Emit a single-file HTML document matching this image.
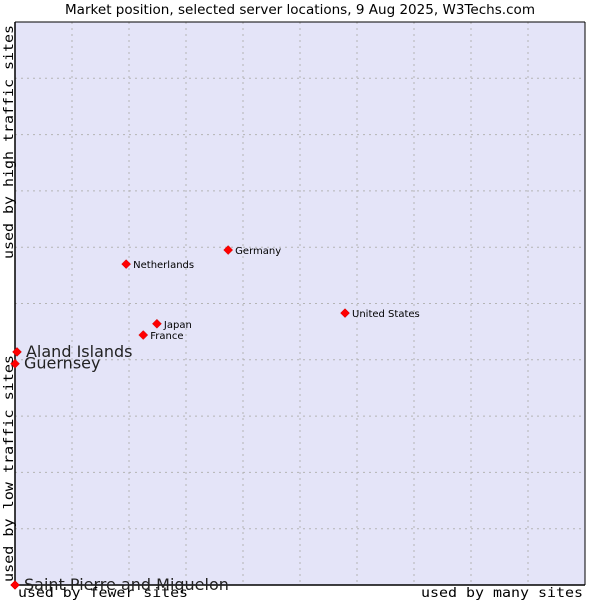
<!DOCTYPE html>
<html><head><meta charset="utf-8"><style>
body{margin:0;background:#fff;}
svg{display:block;}
</style></head><body>
<svg id="chart" width="600" height="600" xmlns="http://www.w3.org/2000/svg" font-family="'DejaVu Sans', 'Liberation Sans', sans-serif">
<text x="65" y="14" font-size="13" textLength="470" lengthAdjust="spacingAndGlyphs" fill="#000">Market position, selected server locations, 9 Aug 2025, W3Techs.com</text>
<rect x="15" y="22" width="570" height="563" fill="#e4e4f8"/>
<g id="grid"></g>
<line x1="15" y1="22" x2="15" y2="585" stroke="#000" stroke-width="1.5"/>
<line x1="15" y1="585" x2="585" y2="585" stroke="#000" stroke-width="1.5"/>
<line x1="15" y1="22" x2="585" y2="22" stroke="#000" stroke-width="1"/>
<line x1="585" y1="22" x2="585" y2="585" stroke="#000" stroke-width="1"/>
<g id="points"></g>
<text x="18" y="597" textLength="170" lengthAdjust="spacingAndGlyphs" font-family="'DejaVu Sans Mono','Liberation Mono',monospace" font-size="13" fill="#000">used by fewer sites</text>
<text x="421" y="597" textLength="162" lengthAdjust="spacingAndGlyphs" font-family="'DejaVu Sans Mono','Liberation Mono',monospace" font-size="13" fill="#000">used by many sites</text>
<text transform="translate(13,582) rotate(-90)" textLength="227" lengthAdjust="spacingAndGlyphs" font-family="'DejaVu Sans Mono','Liberation Mono',monospace" font-size="13" fill="#000">used by low traffic sites</text>
<text transform="translate(13,259) rotate(-90)" textLength="234" lengthAdjust="spacingAndGlyphs" font-family="'DejaVu Sans Mono','Liberation Mono',monospace" font-size="13" fill="#000">used by high traffic sites</text>
</svg>
<script>
const names = ["Netherlands","Germany","United States","Japan","France","Aland Islands","Guernsey","Saint Pierre and Miquelon"];
const xValues = [19.5,37.4,57.9,24.9,22.5,0.35,0,0];
const yValues = [57.0,59.5,48.3,46.4,44.4,41.4,39.3,0];
const bigLabel = [false,false,false,false,false,true,true,true];
const gridSteps = [1,2,3,4,5,6,7,8,9];
const NS="http://www.w3.org/2000/svg";
const L=15,T=22,W=570,H=563;
function sx(v){return L+v/100*W;}
function sy(v){return T+H-v/100*H;}
const grid=document.getElementById('grid');
gridSteps.forEach(s=>{
  const v=document.createElementNS(NS,'line');
  v.setAttribute('x1',sx(s*10));v.setAttribute('x2',sx(s*10));v.setAttribute('y1',T);v.setAttribute('y2',T+H);
  v.setAttribute('stroke','#b4b4b4');v.setAttribute('stroke-dasharray','2,4');
  
  
  grid.appendChild(v);
  const h=document.createElementNS(NS,'line');
  h.setAttribute('y1',sy(s*10));h.setAttribute('y2',sy(s*10));h.setAttribute('x1',L);h.setAttribute('x2',L+W);
  h.setAttribute('stroke','#b4b4b4');h.setAttribute('stroke-dasharray','2,4');
  
  
  grid.appendChild(h);
});
const pts=document.getElementById('points');
names.forEach((n,i)=>{
  const x=sx(xValues[i]),y=sy(yValues[i]);
  const m=document.createElementNS(NS,'path');
  m.setAttribute('d',`M${x} ${y-4.5}L${x+4.5} ${y}L${x} ${y+4.5}L${x-4.5} ${y}Z`);
  m.setAttribute('fill','#ff0000');m.setAttribute('stroke','#c00');m.setAttribute('stroke-width','0.5');
  
  
  pts.appendChild(m);
  const t=document.createElementNS(NS,'text');
  t.textContent=n;
  const big=bigLabel[i];
  t.setAttribute('x',x+(big?9:7));t.setAttribute('y',y+(big?5:4));
  t.setAttribute('font-size',big?'16':'10');
  t.setAttribute('fill',big?'#222':'#000');
  
  
  pts.appendChild(t);
});
</script>
</body></html>
